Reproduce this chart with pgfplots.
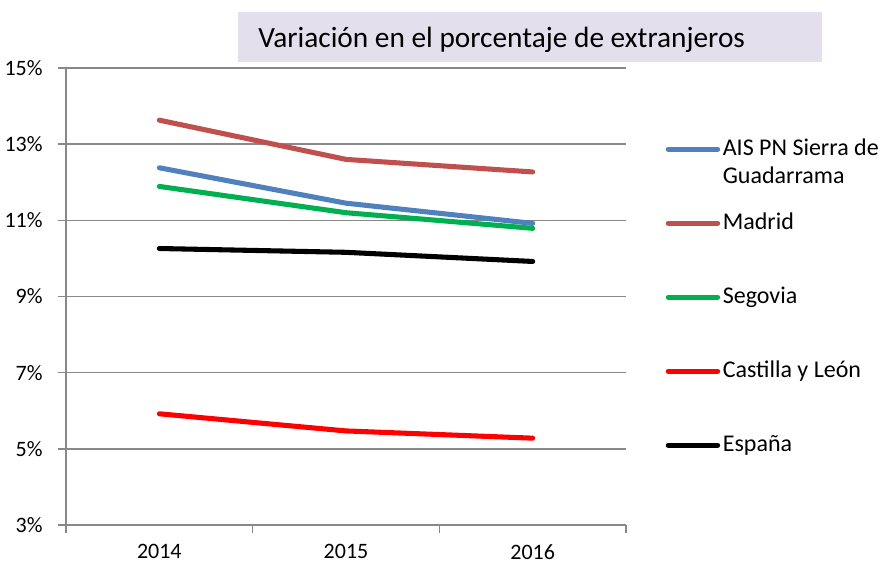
\documentclass[border=0pt]{standalone}
\usepackage{fontspec}
\setmainfont{Carlito}
\usepackage{pgfplots}
\pgfplotsset{compat=1.18}

\definecolor{cAIS}{HTML}{4F81BD}
\definecolor{cMad}{HTML}{C0504D}
\definecolor{cSeg}{HTML}{00B050}
\definecolor{cCyL}{HTML}{FF0000}
\definecolor{cGrid}{HTML}{888888}
\definecolor{cTitle}{HTML}{E4DFEC}

\begin{document}
\begin{tikzpicture}
% 1 px of the reference = 0.75pt
\path[use as bounding box] (0pt,0pt) rectangle (660.75pt,422.25pt);
\fill[cTitle] (178.5pt,375.75pt) rectangle (616.5pt,413.25pt);
\node[anchor=west, inner sep=0pt, font=\fontsize{22}{26}\selectfont] at (193.5pt,392.25pt)
  {Variación en el porcentaje de extranjeros};

\begin{axis}[
    at={(49.5pt,28.5pt)}, anchor=south west,
    scale only axis,
    width=420pt, height=342.75pt,
    xmin=0.5, xmax=3.5,
    ymin=3, ymax=15,
    axis lines=left,
    axis line style={-, draw=cGrid, line width=1.2pt},
    tick align=outside,
    major tick length=6pt,
    tick style={draw=cGrid, line width=1.2pt},
    xtick={0.5,1.5,2.5,3.5},
    xticklabels={,,,},
    extra x ticks={1,2,3},
    extra x tick labels={2014,2015,2016},
    extra x tick style={major tick length=0pt, grid=none},
    ytick={3,5,...,15},
    yticklabel={\pgfmathprintnumber{\tick}\%},
    ymajorgrids=true,
    grid style={draw=cGrid, line width=1.2pt},
    /pgf/number format/assume math mode=true,
    ticklabel style={font=\fontsize{16.5}{19}\selectfont},
    yticklabel style={xshift=-8pt},
    xticklabel style={yshift=-11pt},
    legend style={at={(1.0705,0.849)}, anchor=north west, draw=none, fill=none,
      inner sep=0pt, column sep=2pt, row sep=37.5pt,
      font=\fontsize{18}{21}\selectfont,
      nodes={inner sep=0pt, text height=14pt, text depth=4pt}},
    legend cell align=left,
    legend image code/.code={\draw[#1, line cap=round] (0pt,0pt) -- (37pt,0pt);},
    every axis plot/.append style={line width=3.8pt, line join=round, line cap=round},
]
\addplot[cAIS] coordinates {(1,12.38) (2,11.45) (3,10.92)};
\addplot[cMad] coordinates {(1,13.63) (2,12.60) (3,12.27)};
\addplot[cSeg] coordinates {(1,11.89) (2,11.20) (3,10.79)};
\addplot[cCyL] coordinates {(1,5.92) (2,5.47) (3,5.28)};
\addplot[black] coordinates {(1,10.26) (2,10.16) (3,9.92)};
\legend{{\begin{tabular}[t]{@{}l@{}}AIS PN Sierra de\\Guadarrama\end{tabular}},Madrid,Segovia,Castilla y León,España}
\end{axis}
\end{tikzpicture}
\end{document}
